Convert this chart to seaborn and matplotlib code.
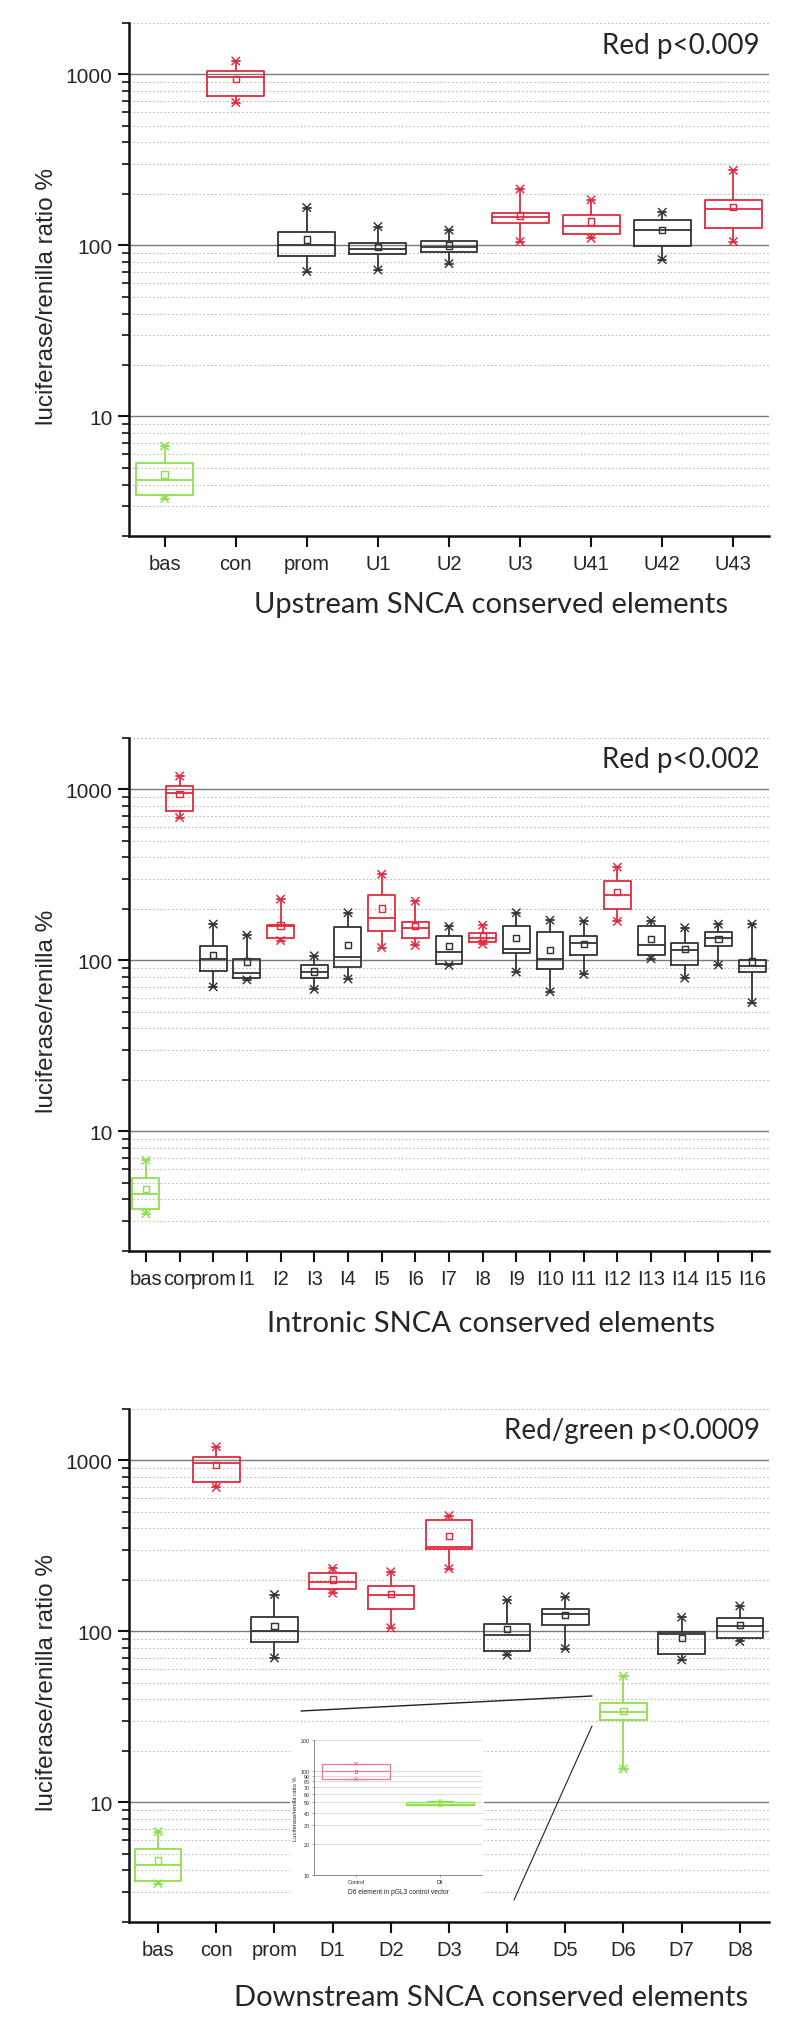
import matplotlib
matplotlib.use("Agg")
import matplotlib.pyplot as plt
import matplotlib.ticker as mticker
from matplotlib.lines import Line2D
from matplotlib.patches import Rectangle
import numpy as np
import pandas as pd
import seaborn as sns

RED = "#e02b3e"
GREEN = "#8de04c"
BLACK = "#333333"
PINK = "#e57f99"
COLORS = {"r": RED, "g": GREEN, "k": BLACK, "p": PINK}

# Upstream elements
UP_NAMES = ["bas", "con", "prom", "U1", "U2", "U3", "U41", "U42", "U43"]
UP_COLOR = ["g", "r", "k", "k", "k", "r", "r", "k", "r"]
UP_MIN = [3.31, 685, 70.4, 71.9, 78.3, 105.4, 110, 82.6, 105.4]
UP_Q1 = [3.49, 746, 87.1, 89.0, 91.8, 136, 116.7, 99.6, 126.4]
UP_MED = [4.27, 963, 101, 95.8, 98.4, 146.6, 130.4, 123, 164]
UP_Q3 = [5.34, 1043, 120.5, 103.3, 106, 154.5, 150, 141.3, 185.4]
UP_MAX = [6.71, 1198, 166.7, 129, 123, 213.8, 185, 156.4, 274.9]
UP_MEAN = [4.57, 943, 108.3, 98.4, 100, 149.7, 138, 123.7, 168.4]

# Intronic elements
IN_NAMES = ["bas", "con", "prom", "I1", "I2", "I3", "I4", "I5", "I6", "I7",
            "I8", "I9", "I10", "I11", "I12", "I13", "I14", "I15", "I16"]
IN_COLOR = ["g", "r", "k", "k", "r", "k", "k", "r", "r", "k",
            "r", "k", "k", "k", "r", "k", "k", "k", "k"]
IN_MIN = [3.30, 684, 70, 76.9, 130.6, 67.7, 77.9, 118.9, 122.3, 93.5,
          124.2, 85.4, 65.5, 82.8, 168.9, 102.3, 78.7, 94, 56.6]
IN_Q1 = [3.51, 748, 87, 79.1, 134.3, 79.1, 91, 147.7, 135.9, 95.1,
         127.8, 110.6, 89, 107.5, 200.8, 107.5, 93.5, 120.9, 86]
IN_MED = [4.31, 956, 101.7, 84.6, 158.8, 85.1, 105.2, 177.5, 155.2, 111.8,
          135.9, 116.2, 101.7, 125.6, 239.9, 122.3, 115, 134.3, 92.5]
IN_Q3 = [5.33, 1045, 120.9, 102.3, 161.5, 93.5, 156.3, 242.7, 167.1, 139.7,
         144.5, 157.9, 146.9, 139.7, 291.6, 157.9, 127.1, 146.1, 101.1]
IN_MAX = [6.77, 1195, 163, 140.6, 228, 106.4, 189.9, 318.8, 221.9, 157.9,
          160.7, 189.9, 171.8, 169.8, 350.8, 170.8, 155.2, 162.6, 163]
IN_MEAN = [4.58, 935, 107.5, 98.4, 160, 86.1, 122.9, 200.9, 158.9, 120.9,
           138, 135.2, 115, 125, 250.9, 132.9, 116.9, 132.9, 98.4]

# Downstream elements
DN_NAMES = ["bas", "con", "prom", "D1", "D2", "D3", "D4", "D5", "D6", "D7", "D8"]
DN_COLOR = ["g", "r", "k", "r", "r", "r", "k", "k", "g", "k", "k"]
DN_MIN = [3.35, 695, 70, 167.5, 105, 232.6, 72.6, 79.4, 15.7, 68.2, 87.3]
DN_Q1 = [3.46, 745, 87, 176.4, 136.1, 301.6, 76.3, 108.7, 30.3, 73.4, 91.9]
DN_MED = [4.29, 960, 101.2, 194.5, 163.7, 312.2, 95, 125.6, 33.8, 96.1, 106.9]
DN_Q3 = [5.33, 1047, 121, 220.7, 183.6, 446.3, 110.3, 136.1, 38.3, 98.9, 120]
DN_MAX = [6.75, 1202, 164.3, 233.9, 223.4, 475.5, 152.7, 159.9, 54.7, 121, 140.8]
DN_MEAN = [4.57, 944, 107.8, 201.4, 165.6, 362.5, 102.9, 125, 34.3, 91.9, 109.4]

# Inset: D6 in pGL3 control vector
INS_NAMES = ["Control", "D6"]
INS_COLOR = ["p", "g"]
INS_MIN = [84, 46.8]
INS_Q1 = [84.4, 46.8]
INS_MED = [100, 48]
INS_Q3 = [117, 50.4]
INS_MAX = [118, 51.8]
INS_MEAN = [100, 49]
INS_TICKS = [10, 20, 30, 40, 50, 60, 70, 80, 90, 100, 200]

sns.set_style("ticks")
plt.rcParams["font.family"] = ["Liberation Sans", "DejaVu Sans"]


def long_form(names, mins, q1s, meds, q3s, maxs):
    rows = []
    for name, *vals in zip(names, mins, q1s, meds, q3s, maxs):
        for v in vals:
            rows.append((name, v))
    return pd.DataFrame(rows, columns=["element", "value"])


def outline_only(colls, lw):
    for c in colls:
        fc = c.get_facecolors()
        c.set_edgecolors(fc)
        c.set_facecolors("none")
        c.set_linewidths(lw)


def draw_boxes(ax, names, groups, mins, q1s, meds, q3s, maxs, means,
               cap, lw=1.3, msize=4.5, xsize=6):
    pal = {n: COLORS[g] for n, g in zip(names, groups)}
    df = long_form(names, mins, q1s, meds, q3s, maxs)
    sns.boxplot(data=df, x="element", y="value", hue="element", order=names,
                hue_order=names, palette=pal, fill=False, width=0.8,
                whis=(0, 100), linewidth=lw, log_scale=True, legend=False,
                showfliers=False, capwidths=cap, ax=ax)
    # mean squares
    n0 = len(ax.collections)
    sns.stripplot(x=names, y=means, hue=names, order=names, hue_order=names,
                  palette=pal, jitter=False, marker="s", size=msize,
                  legend=False, log_scale=True, ax=ax)
    outline_only(ax.collections[n0:], lw * 0.8)
    # whisker end crosses
    n0 = len(ax.collections)
    sns.stripplot(x=names + names, y=list(mins) + list(maxs), hue=names + names,
                  order=names, hue_order=names, palette=pal, jitter=False,
                  marker="x", size=xsize, legend=False, log_scale=True, ax=ax)
    outline_only(ax.collections[n0:], lw * 0.8)


def style_main(ax, names, ylabel, xlabel, note, xlab_off):
    ax.set_ylim(2, 2000)
    ax.set_xlim(-0.5, len(names) - 0.5)
    ax.set_yticks([10, 100, 1000], labels=["10", "100", "1000"])
    ax.yaxis.set_minor_locator(mticker.LogLocator(base=10, subs=np.arange(2, 10), numticks=30))
    ax.yaxis.set_minor_formatter(mticker.NullFormatter())
    ax.grid(True, axis="y", which="major", color="#7a7a7a", lw=1.0, ls="-")
    ax.grid(True, axis="y", which="minor", color="#bdbdbd", lw=0.8, ls=(0, (1.5, 2.0)))
    ax.grid(False, axis="x")
    ax.set_axisbelow(True)
    sns.despine(ax=ax)
    for s in ("left", "bottom"):
        ax.spines[s].set_linewidth(1.8)
        ax.spines[s].set_color("#111111")
    ax.tick_params(axis="y", which="major", length=8, width=1.5, pad=4,
                   labelsize=15, direction="out", color="#111111")
    ax.tick_params(axis="y", which="minor", length=5, width=1.2,
                   direction="out", color="#111111")
    ax.tick_params(axis="x", length=8, width=1.5, pad=5, labelsize=14.5,
                   direction="out", color="#111111")
    ax.set_ylabel(ylabel, fontsize=17.5)
    ax.yaxis.label.set_va("center")
    ax.yaxis.set_label_coords(-0.128, 0.468)
    ax.set_xlabel(xlabel, fontsize=21, fontfamily="Lato")
    ax.xaxis.label.set_va("center")
    ax.xaxis.set_label_coords(0.565, -xlab_off)
    ax.text(0.986, 0.958, note, transform=ax.transAxes, ha="right",
            va="center", fontsize=20, fontfamily="Lato")


fig = plt.figure(figsize=(7.87, 20.31), dpi=100)
W, H = 787.0, 2031.0

ax1 = fig.add_axes([0.164, 0.7356, 0.813, 0.2526])
draw_boxes(ax1, UP_NAMES, UP_COLOR, UP_MIN, UP_Q1, UP_MED, UP_Q3, UP_MAX, UP_MEAN, cap=0.11)
style_main(ax1, UP_NAMES, "luciferase/renilla ratio %",
           "Upstream SNCA conserved elements", "Red p<0.009", 0.1326)

ax2 = fig.add_axes([0.164, 0.3836, 0.813, 0.2526])
draw_boxes(ax2, IN_NAMES, IN_COLOR, IN_MIN, IN_Q1, IN_MED, IN_Q3, IN_MAX, IN_MEAN, cap=0.24)
style_main(ax2, IN_NAMES, "luciferase/renilla %",
           "Intronic SNCA conserved elements", "Red p<0.002", 0.1413)

ax3 = fig.add_axes([0.164, 0.0532, 0.813, 0.2526])
draw_boxes(ax3, DN_NAMES, DN_COLOR, DN_MIN, DN_Q1, DN_MED, DN_Q3, DN_MAX, DN_MEAN, cap=0.14)
style_main(ax3, DN_NAMES, "luciferase/renilla ratio %",
           "Downstream SNCA conserved elements", "Red/green p<0.0009", 0.146)

# white pasted area for the inset
fig.add_artist(Rectangle((290 / W, 1 - 1905 / H), 194 / W, 179 / H,
                         transform=fig.transFigure, facecolor="white",
                         edgecolor="none", zorder=1))

axi = fig.add_axes([314 / W, 1 - 1876 / H, 168 / W, 135 / H], zorder=2)
draw_boxes(axi, INS_NAMES, INS_COLOR, INS_MIN, INS_Q1, INS_MED, INS_Q3, INS_MAX,
           INS_MEAN, cap=0.3, lw=0.9, msize=2, xsize=2.5)
axi.set_ylim(10, 200)
axi.set_xlim(-0.5, 1.5)
axi.set_yticks(INS_TICKS, labels=[str(t) for t in INS_TICKS])
axi.yaxis.set_minor_locator(mticker.NullLocator())
axi.grid(True, axis="y", color="#d8d8d8", lw=0.6)
axi.set_axisbelow(True)
sns.despine(ax=axi)
for s in ("left", "bottom"):
    axi.spines[s].set_linewidth(0.6)
    axi.spines[s].set_color("#777777")
axi.tick_params(labelsize=3.8, length=1.5, width=0.5, pad=1.5, color="#777777")
axi.set_ylabel("Luciferase/renilla ratio %", fontsize=4.2, labelpad=2)
axi.set_xlabel("D6 element in pGL3 control vector", fontsize=4.8, labelpad=3)

# zoom-callout lines from D6 box to the inset
fig.add_artist(Line2D([301 / W, 592 / W], [1 - 1712 / H, 1 - 1697 / H],
                      transform=fig.transFigure, color="#222222", lw=1.0, zorder=3))
fig.add_artist(Line2D([592 / W, 514 / W], [1 - 1727 / H, 1 - 1901 / H],
                      transform=fig.transFigure, color="#222222", lw=0.8, zorder=3))

fig.savefig("out.png", dpi=100)
